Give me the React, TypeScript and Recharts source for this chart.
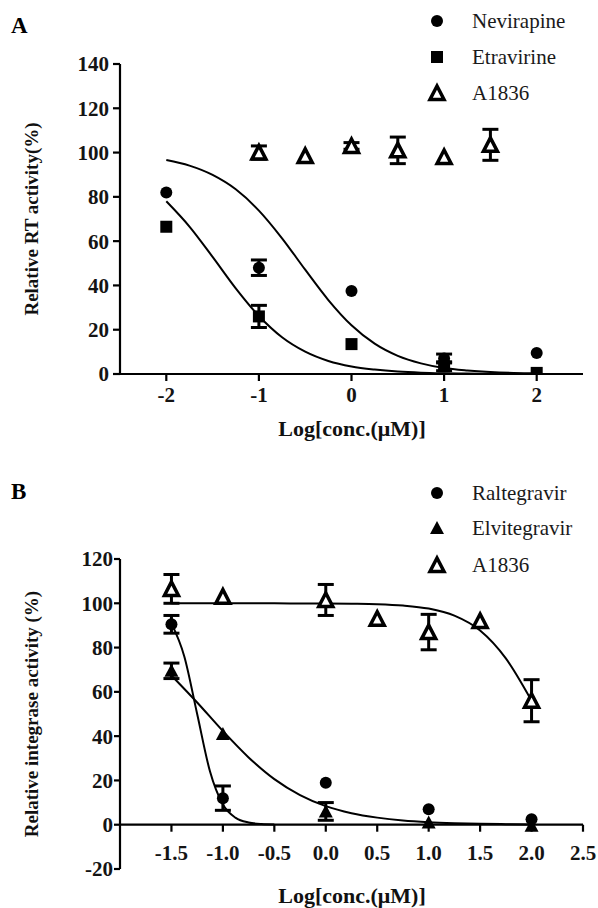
import React from 'react';
import { ComposedChart, XAxis, YAxis, Scatter, Line, ErrorBar, ReferenceLine } from 'recharts';

const SERIF = '"Liberation Serif", "Times New Roman", Times, serif';
const INK = '#000';
const TICK_INK = '#141414';

// ---------------- Panel A : RT activity ----------------
const aXTicks = [-2, -1, 0, 1, 2];
const aYTicks = [0, 20, 40, 60, 80, 100, 120, 140];
const aDoseX = [-2, -1, 0, 1, 2];
const aNevirapine = [82, 48, 37.5, 7, 9.5];
const aNevirapineErr = [0, 3.5, 0, 2, 0];
const aEtravirine = [66.5, 26, 13.5, 3.5, 0.5];
const aEtravirineErr = [0, 5, 0, 2, 0];
const aA1836X = [-1, -0.5, 0, 0.5, 1, 1.5];
const aA1836 = [100, 98.5, 103, 101, 98, 103.5];
const aA1836Err = [3, 0, 1.5, 6, 0, 7];
const aFitX = [-2, -1.75, -1.5, -1.25, -1, -0.75, -0.5, -0.25, 0, 0.25, 0.5, 0.75, 1, 1.25, 1.5, 1.75, 2];
const aNevirapineFit = [96.6, 94.1, 89.9, 83.4, 73.8, 61.3, 47.1, 33.4, 22.0, 13.7, 8.2, 4.8, 2.7, 1.6, 0.9, 0.5, 0.3];
const aEtravirineFit = [78.0, 66.6, 52.9, 38.7, 26.2, 16.6, 10.1, 5.9, 3.4, 2.0, 1.1, 0.6, 0.35, 0.2, 0.1, 0.06, 0.04];

// ---------------- Panel B : integrase activity ----------------
const bXTicks = [-1.5, -1, -0.5, 0, 0.5, 1, 1.5, 2, 2.5];
const bYTicks = [-20, 0, 20, 40, 60, 80, 100, 120];
const bDoseX = [-1.5, -1, 0, 1, 2];
const bRaltegravir = [90.5, 12, 19, 7, 2.5];
const bRaltegravirErr = [4, 5.5, 0, 0, 0];
const bElvitegravir = [69.5, 41, 6, 1, -0.5];
const bElvitegravirErr = [3.5, 0, 4, 0, 0];
const bA1836X = [-1.5, -1, 0, 0.5, 1, 1.5, 2];
const bA1836 = [106.5, 103, 101.5, 93, 87, 92, 56];
const bA1836Err = [6.5, 0, 7, 0, 8, 0, 9.5];
const bRaltegravirFitX = [-1.5, -1.375, -1.25, -1.125, -1, -0.875, -0.75, -0.625, -0.5];
const bRaltegravirFit = [90.9, 76.0, 50.0, 24.0, 9.1, 3.1, 1.0, 0.3, 0.1];
const bFitX = [-1.5, -1.25, -1, -0.75, -0.5, -0.25, 0, 0.25, 0.5, 0.75, 1, 1.25, 1.5, 1.75, 2];
const bElvitegravirFit = [67.4, 55.2, 42.3, 30.4, 20.6, 13.4, 8.4, 5.2, 3.2, 1.9, 1.15, 0.7, 0.4, 0.25, 0.15];
const bA1836Fit = [100, 100, 100, 100, 100, 99.9, 99.9, 99.8, 99.6, 99.0, 97.6, 94.4, 87.7, 75.1, 56.0];

const pts = (xs: number[], ys: number[], es?: number[]) =>
  xs.map((x, i) => ({ x, y: ys[i], err: es ? es[i] : 0 }));

type MarkerKind = 'circle' | 'square' | 'triangle' | 'openTriangle';

const MarkerShape = ({ kind, cx, cy }: { kind: MarkerKind; cx: number; cy: number }) => {
  if (cx == null || cy == null) return null;
  if (kind === 'circle') return <circle cx={cx} cy={cy} r={6} fill={INK} />;
  if (kind === 'square') return <rect x={cx - 6} y={cy - 6} width={12} height={12} fill={INK} />;
  if (kind === 'triangle')
    return <polygon points={`${cx - 7},${cy + 6} ${cx + 7},${cy + 6} ${cx},${cy - 7}`} fill={INK} />;
  return (
    <polygon
      points={`${cx - 7},${cy + 6.5} ${cx + 7},${cy + 6.5} ${cx},${cy - 7}`}
      fill="#fff"
      stroke={INK}
      strokeWidth={3.5}
      strokeLinejoin="miter"
    />
  );
};

const shapeOf = (kind: MarkerKind) => (p: any) => <MarkerShape kind={kind} cx={p.cx} cy={p.cy} />;

const tickStyle = { fontFamily: SERIF, fontWeight: 700, fontSize: 21, fill: TICK_INK };

const PLOT_H = 310;
const B_ZERO_SHIFT = (PLOT_H * 20) / 140;

const BXTick = (props: any) => {
  const { x, y, payload } = props;
  const zy = y - B_ZERO_SHIFT;
  return (
    <g>
      <line x1={x} x2={x} y1={zy} y2={zy + 7} stroke={INK} strokeWidth={2.2} />
      <text x={x} y={zy + 35} textAnchor="middle" style={tickStyle as any}>
        {Number(payload.value).toFixed(1)}
      </text>
    </g>
  );
};

const LegendIcon = ({ kind }: { kind: MarkerKind }) => (
  <svg width={24} height={24} style={{ display: 'block' }}>
    <MarkerShape kind={kind} cx={12} cy={12} />
  </svg>
);

const LegendRow = ({ kind, label, cy }: { kind: MarkerKind; label: string; cy: number }) => (
  <div style={{ position: 'absolute', left: 425, top: cy - 12, height: 24, display: 'flex', alignItems: 'center' }}>
    <LegendIcon kind={kind} />
    <span style={{ marginLeft: 23, fontFamily: SERIF, fontSize: 21, color: '#1a1a1a', lineHeight: '24px' }}>{label}</span>
  </div>
);

const YTitle = ({ text, cx, cy }: { text: string; cx: number; cy: number }) => (
  <div
    style={{
      position: 'absolute',
      left: cx - 200,
      top: cy - 12,
      width: 400,
      height: 24,
      lineHeight: '24px',
      textAlign: 'center',
      transform: 'rotate(-90deg)',
      fontFamily: SERIF,
      fontWeight: 700,
      fontSize: 19,
      color: '#111',
      whiteSpace: 'nowrap',
    }}
  >
    {text}
  </div>
);

const XTitle = ({ text, cx, cy }: { text: string; cx: number; cy: number }) => (
  <div
    style={{
      position: 'absolute',
      left: cx - 200,
      top: cy - 13,
      width: 400,
      height: 26,
      lineHeight: '26px',
      textAlign: 'center',
      fontFamily: SERIF,
      fontWeight: 700,
      fontSize: 22,
      color: '#111',
      whiteSpace: 'nowrap',
    }}
  >
    {text}
  </div>
);

const PanelLetter = ({ text, top }: { text: string; top: number }) => (
  <div style={{ position: 'absolute', left: 11, top, fontFamily: SERIF, fontWeight: 700, fontSize: 23, color: '#000', lineHeight: '24px' }}>
    {text}
  </div>
);

const errBar = (
  <ErrorBar dataKey="err" direction="y" width={8} strokeWidth={3} stroke={INK} />
);

export default function App() {
  const nev = pts(aDoseX, aNevirapine, aNevirapineErr);
  const etr = pts(aDoseX, aEtravirine, aEtravirineErr);
  const a36 = pts(aA1836X, aA1836, aA1836Err);
  const nevFit = pts(aFitX, aNevirapineFit);
  const etrFit = pts(aFitX, aEtravirineFit);

  const ral = pts(bDoseX, bRaltegravir, bRaltegravirErr);
  const elv = pts(bDoseX, bElvitegravir, bElvitegravirErr);
  const b36 = pts(bA1836X, bA1836, bA1836Err);
  const ralFit = pts(bRaltegravirFitX, bRaltegravirFit);
  const elvFit = pts(bFitX, bElvitegravirFit);
  const b36Fit = pts(bFitX, bA1836Fit);

  return (
    <div style={{ position: 'absolute', left: 0, top: 0, width: 598, height: 908, background: '#fff', overflow: 'hidden' }}>
      {/* Panel A */}
      <div style={{ position: 'absolute', left: 0, top: 0 }}>
        <ComposedChart width={598} height={430} margin={{ top: 64, right: 15, bottom: 0, left: 0 }}>
          <XAxis
            type="number"
            dataKey="x"
            domain={[-2.5, 2.5]}
            ticks={aXTicks}
            allowDataOverflow
            height={56}
            axisLine={{ stroke: INK, strokeWidth: 2.2 }}
            tickLine={{ stroke: INK, strokeWidth: 2.2 }}
            tickSize={7}
            tickMargin={6}
            tick={tickStyle}
          />
          <YAxis
            type="number"
            dataKey="y"
            domain={[0, 140]}
            ticks={aYTicks}
            allowDataOverflow
            width={120}
            axisLine={{ stroke: INK, strokeWidth: 2.2 }}
            tickLine={{ stroke: INK, strokeWidth: 2.2 }}
            tickSize={7}
            tickMargin={4}
            tick={tickStyle}
          />
          <Line data={nevFit} dataKey="y" type="monotone" stroke={INK} strokeWidth={2} dot={false} activeDot={false} isAnimationActive={false} />
          <Line data={etrFit} dataKey="y" type="monotone" stroke={INK} strokeWidth={2} dot={false} activeDot={false} isAnimationActive={false} />
          <Scatter name="Nevirapine" data={nev} dataKey="y" shape={shapeOf('circle')} isAnimationActive={false}>
            {errBar}
          </Scatter>
          <Scatter name="Etravirine" data={etr} dataKey="y" shape={shapeOf('square')} isAnimationActive={false}>
            {errBar}
          </Scatter>
          <Scatter name="A1836" data={a36} dataKey="y" shape={shapeOf('openTriangle')} isAnimationActive={false}>
            {errBar}
          </Scatter>
        </ComposedChart>
      </div>

      {/* Panel B */}
      <div style={{ position: 'absolute', left: 0, top: 440 }}>
        <ComposedChart width={598} height={468} margin={{ top: 119, right: 15, bottom: 0, left: 0 }}>
          <XAxis
            type="number"
            dataKey="x"
            domain={[-2, 2.5]}
            ticks={bXTicks}
            allowDataOverflow
            height={39}
            axisLine={false}
            tickLine={false}
            tickSize={0}
            tickMargin={0}
            tick={<BXTick />}
          />
          <YAxis
            type="number"
            dataKey="y"
            domain={[-20, 120]}
            ticks={bYTicks}
            allowDataOverflow
            width={120}
            axisLine={{ stroke: INK, strokeWidth: 2.2 }}
            tickLine={{ stroke: INK, strokeWidth: 2.2 }}
            tickSize={6}
            tickMargin={1}
            tick={tickStyle}
          />
          <ReferenceLine y={0} stroke={INK} strokeWidth={2.2} />
          <Line data={ralFit} dataKey="y" type="monotone" stroke={INK} strokeWidth={2} dot={false} activeDot={false} isAnimationActive={false} />
          <Line data={elvFit} dataKey="y" type="monotone" stroke={INK} strokeWidth={2} dot={false} activeDot={false} isAnimationActive={false} />
          <Line data={b36Fit} dataKey="y" type="monotone" stroke={INK} strokeWidth={2} dot={false} activeDot={false} isAnimationActive={false} />
          <Scatter name="Raltegravir" data={ral} dataKey="y" shape={shapeOf('circle')} isAnimationActive={false}>
            {errBar}
          </Scatter>
          <Scatter name="Elvitegravir" data={elv} dataKey="y" shape={shapeOf('triangle')} isAnimationActive={false}>
            {errBar}
          </Scatter>
          <Scatter name="A1836" data={b36} dataKey="y" shape={shapeOf('openTriangle')} isAnimationActive={false}>
            {errBar}
          </Scatter>
        </ComposedChart>
      </div>

      <PanelLetter text="A" top={14} />
      <PanelLetter text="B" top={480} />

      <LegendRow kind="circle" label="Nevirapine" cy={21} />
      <LegendRow kind="square" label="Etravirine" cy={57} />
      <LegendRow kind="openTriangle" label="A1836" cy={93} />

      <LegendRow kind="circle" label="Raltegravir" cy={493} />
      <LegendRow kind="triangle" label="Elvitegravir" cy={528} />
      <LegendRow kind="openTriangle" label="A1836" cy={565} />

      <YTitle text="Relative RT activity(%)" cx={32} cy={219} />
      <XTitle text="Log[conc.(μM)]" cx={352} cy={429} />
      <YTitle text="Relative integrase activity (%)" cx={32} cy={714} />
      <XTitle text="Log[conc.(μM)]" cx={352} cy={896} />
    </div>
  );
}
